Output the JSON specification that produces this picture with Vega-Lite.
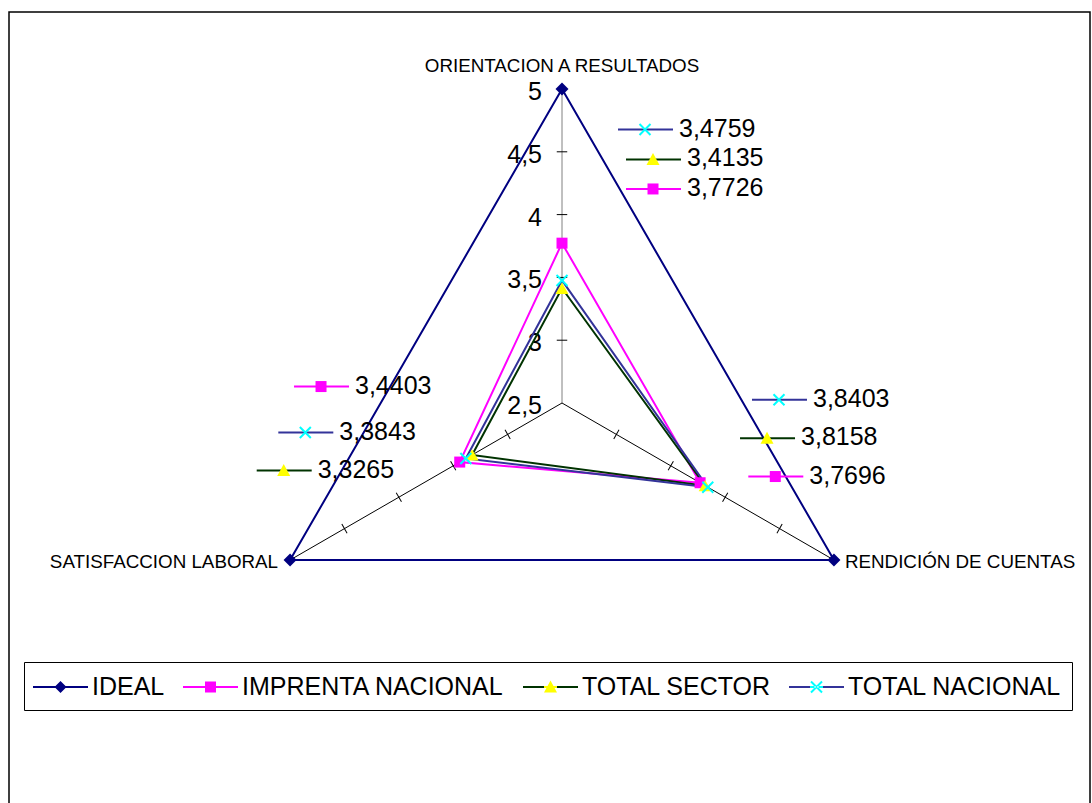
{
  "$schema": "https://vega.github.io/schema/vega-lite/v6.json",
  "width": 1081,
  "height": 792,
  "padding": {"left": 9, "top": 12, "right": 2, "bottom": 0},
  "autosize": "none",
  "background": "white",
  "config": {
    "view": {"stroke": "black", "strokeWidth": 1.5},
    "font": "Liberation Sans",
    "locale": {"number": {"decimal": ",", "thousands": ".", "grouping": [3], "currency": ["", ""]}}
  },
  "datasets": {
    "radar": [
      {"series": "IDEAL", "axis": "ORIENTACION A RESULTADOS", "value": 5},
      {"series": "IDEAL", "axis": "RENDICIÓN DE CUENTAS", "value": 5},
      {"series": "IDEAL", "axis": "SATISFACCION LABORAL", "value": 5},
      {"series": "IMPRENTA NACIONAL", "axis": "ORIENTACION A RESULTADOS", "value": 3.7726},
      {"series": "IMPRENTA NACIONAL", "axis": "RENDICIÓN DE CUENTAS", "value": 3.7696},
      {"series": "IMPRENTA NACIONAL", "axis": "SATISFACCION LABORAL", "value": 3.4403},
      {"series": "TOTAL SECTOR", "axis": "ORIENTACION A RESULTADOS", "value": 3.4135},
      {"series": "TOTAL SECTOR", "axis": "RENDICIÓN DE CUENTAS", "value": 3.8158},
      {"series": "TOTAL SECTOR", "axis": "SATISFACCION LABORAL", "value": 3.3265},
      {"series": "TOTAL NACIONAL", "axis": "ORIENTACION A RESULTADOS", "value": 3.4759},
      {"series": "TOTAL NACIONAL", "axis": "RENDICIÓN DE CUENTAS", "value": 3.8403},
      {"series": "TOTAL NACIONAL", "axis": "SATISFACCION LABORAL", "value": 3.3843}
    ],
    "ticks": [
      {"axis": "ORIENTACION A RESULTADOS", "value": 3},
      {"axis": "ORIENTACION A RESULTADOS", "value": 3.5},
      {"axis": "ORIENTACION A RESULTADOS", "value": 4},
      {"axis": "ORIENTACION A RESULTADOS", "value": 4.5},
      {"axis": "RENDICIÓN DE CUENTAS", "value": 3},
      {"axis": "RENDICIÓN DE CUENTAS", "value": 3.5},
      {"axis": "RENDICIÓN DE CUENTAS", "value": 4},
      {"axis": "RENDICIÓN DE CUENTAS", "value": 4.5},
      {"axis": "SATISFACCION LABORAL", "value": 3},
      {"axis": "SATISFACCION LABORAL", "value": 3.5},
      {"axis": "SATISFACCION LABORAL", "value": 4},
      {"axis": "SATISFACCION LABORAL", "value": 4.5}
    ],
    "scalelabels": [
      {"axis": "ORIENTACION A RESULTADOS", "value": 2.5},
      {"axis": "ORIENTACION A RESULTADOS", "value": 3},
      {"axis": "ORIENTACION A RESULTADOS", "value": 3.5},
      {"axis": "ORIENTACION A RESULTADOS", "value": 4},
      {"axis": "ORIENTACION A RESULTADOS", "value": 4.5},
      {"axis": "ORIENTACION A RESULTADOS", "value": 5}
    ]
  },
  "layer": [
    {
      "data": {"name": "radar"},
      "transform": [
        {"calculate": "indexof(['ORIENTACION A RESULTADOS','RENDICIÓN DE CUENTAS','SATISFACCION LABORAL'], datum.axis)", "as": "k"},
        {"calculate": "(datum.value - 2.5) * sin(datum.k * 2 * PI / 3)", "as": "px"},
        {"calculate": "(datum.value - 2.5) * cos(datum.k * 2 * PI / 3)", "as": "py"}
      ],
      "encoding": {
        "x": {"field": "px", "type": "quantitative", "scale": {"domain": [-4.4029, 4.2038], "nice": false, "zero": false}, "axis": null},
        "y": {"field": "py", "type": "quantitative", "scale": {"domain": [-3.1926, 3.1131], "nice": false, "zero": false}, "axis": null}
      },
      "layer": [
        {
          "transform": [{"filter": "datum.series === 'IDEAL'"}],
          "mark": {"type": "rule", "strokeWidth": 1},
          "encoding": {
            "x": {"datum": 0, "type": "quantitative"},
            "y": {"datum": 0, "type": "quantitative"},
            "x2": {"field": "px"},
            "y2": {"field": "py"},
            "color": {"condition": {"test": "datum.k === 0", "value": "#808080"}, "value": "black"}
          }
        }
      ]
    },
    {
      "data": {"name": "ticks"},
      "transform": [
        {"calculate": "indexof(['ORIENTACION A RESULTADOS','RENDICIÓN DE CUENTAS','SATISFACCION LABORAL'], datum.axis)", "as": "k"},
        {"calculate": "(datum.value - 2.5) * sin(datum.k * 2 * PI / 3)", "as": "px"},
        {"calculate": "(datum.value - 2.5) * cos(datum.k * 2 * PI / 3)", "as": "py"}
      ],
      "encoding": {
        "x": {"field": "px", "type": "quantitative", "scale": {"domain": [-4.4029, 4.2038], "nice": false, "zero": false}, "axis": null},
        "y": {"field": "py", "type": "quantitative", "scale": {"domain": [-3.1926, 3.1131], "nice": false, "zero": false}, "axis": null}
      },
      "layer": [
        {"transform": [{"filter": "datum.k === 0"}], "mark": {"type": "point", "shape": "stroke", "size": 110, "angle": 0, "filled": false, "stroke": "black", "strokeWidth": 1, "opacity": 1}},
        {"transform": [{"filter": "datum.k === 1"}], "mark": {"type": "point", "shape": "stroke", "size": 110, "angle": 120, "filled": false, "stroke": "black", "strokeWidth": 1, "opacity": 1}},
        {"transform": [{"filter": "datum.k === 2"}], "mark": {"type": "point", "shape": "stroke", "size": 110, "angle": 60, "filled": false, "stroke": "black", "strokeWidth": 1, "opacity": 1}}
      ]
    },
    {
      "data": {"name": "scalelabels"},
      "transform": [
        {"calculate": "0", "as": "px"},
        {"calculate": "datum.value - 2.5", "as": "py"}
      ],
      "mark": {"type": "text", "align": "right", "baseline": "middle", "dx": -20, "dy": 3, "fontSize": 25, "font": "Liberation Sans", "color": "black"},
      "encoding": {
        "x": {"field": "px", "type": "quantitative", "scale": {"domain": [-4.4029, 4.2038], "nice": false, "zero": false}, "axis": null},
        "y": {"field": "py", "type": "quantitative", "scale": {"domain": [-3.1926, 3.1131], "nice": false, "zero": false}, "axis": null},
        "text": {"field": "value", "type": "quantitative", "format": ".1~f"}
      }
    },
    {
      "data": {"name": "radar"},
      "transform": [
        {"calculate": "indexof(['ORIENTACION A RESULTADOS','RENDICIÓN DE CUENTAS','SATISFACCION LABORAL'], datum.axis)", "as": "k"},
        {"calculate": "(datum.value - 2.5) * sin(datum.k * 2 * PI / 3)", "as": "px"},
        {"calculate": "(datum.value - 2.5) * cos(datum.k * 2 * PI / 3)", "as": "py"}
      ],
      "encoding": {
        "x": {"field": "px", "type": "quantitative", "scale": {"domain": [-4.4029, 4.2038], "nice": false, "zero": false}, "axis": null},
        "y": {"field": "py", "type": "quantitative", "scale": {"domain": [-3.1926, 3.1131], "nice": false, "zero": false}, "axis": null}
      },
      "layer": [
        {
          "mark": {"type": "line", "interpolate": "linear-closed", "strokeWidth": 2},
          "encoding": {
            "x": {"field": "px", "type": "quantitative"},
            "y": {"field": "py", "type": "quantitative"},
            "order": {"field": "k", "type": "quantitative"},
            "stroke": {
              "field": "series", "type": "nominal",
              "scale": {"domain": ["IDEAL", "IMPRENTA NACIONAL", "TOTAL SECTOR", "TOTAL NACIONAL"], "range": ["#000080", "#FF00FF", "#003300", "#333399"]},
              "legend": {
                "orient": "none", "legendX": 15, "legendY": 650, "direction": "horizontal", "title": null,
                "strokeColor": "black", "padding": 10, "symbolSize": 900, "symbolStrokeWidth": 2,
                "labelOffset": 28, "labelFontSize": 25, "labelFont": "Liberation Sans",
                "labelColor": "black", "labelLimit": 600, "columnPadding": 17,
                "encode": {"symbols": {"update": {
                  "shape": {"signal": "datum.value === 'IDEAL' ? 'M-1.0667,-0.0667H2.6V0.0667H-1.0667ZM0.367,0L0.767,-0.4L1.167,0L0.767,0.4Z' : datum.value === 'IMPRENTA NACIONAL' ? 'M-1.0667,-0.0667H2.6V0.0667H-1.0667ZM0.4,-0.367H1.133V0.367H0.4Z' : datum.value === 'TOTAL SECTOR' ? 'M-1.0667,-0.0667H2.6V0.0667H-1.0667ZM0.767,-0.43L1.2,0.37L0.333,0.37Z' : 'M-1.0667,-0.0667H2.6V0.0667H-1.0667ZM0.3529,-0.3199L1.0869,0.4141L1.1811,0.3199L0.4471,-0.4141ZM0.4471,0.4141L1.1811,-0.3199L1.0869,-0.4141L0.3529,0.3199Z'"},
                  "fill": {"signal": "datum.value === 'IDEAL' ? '#000080' : datum.value === 'IMPRENTA NACIONAL' ? '#FF00FF' : datum.value === 'TOTAL SECTOR' ? {gradient: 'linear', x1: 0, y1: 0, x2: 1, y2: 0, stops: [{offset: 0, color: '#003300'}, {offset: 0.381, color: '#003300'}, {offset: 0.381, color: '#FFFF00'}, {offset: 0.619, color: '#FFFF00'}, {offset: 0.619, color: '#003300'}, {offset: 1, color: '#003300'}]} : {gradient: 'linear', x1: 0, y1: 0, x2: 1, y2: 0, stops: [{offset: 0, color: '#333399'}, {offset: 0.387, color: '#333399'}, {offset: 0.387, color: '#00FFFF'}, {offset: 0.613, color: '#00FFFF'}, {offset: 0.613, color: '#333399'}, {offset: 1, color: '#333399'}]}"},
                  "stroke": {"value": "transparent"},
                  "strokeWidth": {"value": 0},
                  "opacity": {"value": 1}
                }}}
              }
            }
          }
        },
        {"transform": [{"filter": "datum.series === 'IDEAL'"}], "mark": {"type": "point", "shape": "diamond", "size": 169, "filled": true, "color": "#000080", "opacity": 1}},
        {"transform": [{"filter": "datum.series === 'IMPRENTA NACIONAL'"}], "mark": {"type": "point", "shape": "square", "size": 121, "filled": true, "color": "#FF00FF", "opacity": 1}},
        {"transform": [{"filter": "datum.series === 'TOTAL SECTOR'"}], "mark": {"type": "point", "shape": "triangle-up", "size": 169, "filled": true, "color": "#FFFF00", "opacity": 1}},
        {"transform": [{"filter": "datum.series === 'TOTAL NACIONAL'"}], "mark": {"type": "point", "shape": "M-1,-1L1,1M-1,1L1,-1", "size": 121, "filled": false, "stroke": "#00FFFF", "strokeWidth": 2, "opacity": 1}},

        {"transform": [{"filter": "datum.series === 'IDEAL' && datum.k === 0"}], "mark": {"type": "text", "align": "center", "baseline": "middle", "dy": -23.5, "fontSize": 18.8, "font": "Liberation Sans", "color": "black"}, "encoding": {"text": {"field": "axis"}}},
        {"transform": [{"filter": "datum.series === 'IDEAL' && datum.k === 1"}], "mark": {"type": "text", "align": "left", "baseline": "middle", "dx": 11, "dy": 2, "fontSize": 18.8, "font": "Liberation Sans", "color": "black"}, "encoding": {"text": {"field": "axis"}}},
        {"transform": [{"filter": "datum.series === 'IDEAL' && datum.k === 2"}], "mark": {"type": "text", "align": "right", "baseline": "middle", "dx": -12, "dy": 2.3, "fontSize": 18.8, "font": "Liberation Sans", "color": "black"}, "encoding": {"text": {"field": "axis"}}},

        {
          "transform": [{"filter": "datum.series === 'TOTAL NACIONAL' && datum.k === 0"}],
          "layer": [
            {"mark": {"type": "text", "align": "left", "baseline": "middle", "dx": 117, "dy": -151.9, "fontSize": 25, "font": "Liberation Sans", "color": "black"}, "encoding": {"text": {"field": "value", "type": "quantitative", "format": ".4f"}}},
            {"mark": {"type": "point", "shape": "M56,-150.9H111", "size": 4, "filled": false, "stroke": "#333399", "strokeWidth": 2, "opacity": 1}},
            {"mark": {"type": "point", "shape": "M77.5,-156.4L88.5,-145.4M77.5,-145.4L88.5,-156.4", "size": 4, "filled": false, "stroke": "#00FFFF", "strokeWidth": 2, "opacity": 1}}
          ]
        },
        {
          "transform": [{"filter": "datum.series === 'TOTAL SECTOR' && datum.k === 0"}],
          "layer": [
            {"mark": {"type": "text", "align": "left", "baseline": "middle", "dx": 125, "dy": -129.8, "fontSize": 25, "font": "Liberation Sans", "color": "black"}, "encoding": {"text": {"field": "value", "type": "quantitative", "format": ".4f"}}},
            {"mark": {"type": "point", "shape": "M64,-128.8H119", "size": 4, "filled": false, "stroke": "#003300", "strokeWidth": 2, "opacity": 1}},
            {"mark": {"type": "point", "shape": "M91,-135.3L97.5,-123.3L84.5,-123.3Z", "size": 4, "filled": true, "fill": "#FFFF00", "strokeWidth": 0, "opacity": 1}}
          ]
        },
        {
          "transform": [{"filter": "datum.series === 'IMPRENTA NACIONAL' && datum.k === 0"}],
          "layer": [
            {"mark": {"type": "text", "align": "left", "baseline": "middle", "dx": 125, "dy": -55.2, "fontSize": 25, "font": "Liberation Sans", "color": "black"}, "encoding": {"text": {"field": "value", "type": "quantitative", "format": ".4f"}}},
            {"mark": {"type": "point", "shape": "M64,-54.2H119", "size": 4, "filled": false, "stroke": "#FF00FF", "strokeWidth": 2, "opacity": 1}},
            {"mark": {"type": "point", "shape": "M85.5,-59.7h11v11h-11Z", "size": 4, "filled": true, "fill": "#FF00FF", "strokeWidth": 0, "opacity": 1}}
          ]
        },
        {
          "transform": [{"filter": "datum.series === 'TOTAL NACIONAL' && datum.k === 1"}],
          "layer": [
            {"mark": {"type": "text", "align": "left", "baseline": "middle", "dx": 105.2, "dy": -88.4, "fontSize": 25, "font": "Liberation Sans", "color": "black"}, "encoding": {"text": {"field": "value", "type": "quantitative", "format": ".4f"}}},
            {"mark": {"type": "point", "shape": "M44.2,-87.4H99.2", "size": 4, "filled": false, "stroke": "#333399", "strokeWidth": 2, "opacity": 1}},
            {"mark": {"type": "point", "shape": "M65.7,-92.9L76.7,-81.9M65.7,-81.9L76.7,-92.9", "size": 4, "filled": false, "stroke": "#00FFFF", "strokeWidth": 2, "opacity": 1}}
          ]
        },
        {
          "transform": [{"filter": "datum.series === 'TOTAL SECTOR' && datum.k === 1"}],
          "layer": [
            {"mark": {"type": "text", "align": "left", "baseline": "middle", "dx": 95.9, "dy": -48.3, "fontSize": 25, "font": "Liberation Sans", "color": "black"}, "encoding": {"text": {"field": "value", "type": "quantitative", "format": ".4f"}}},
            {"mark": {"type": "point", "shape": "M34.9,-47.3H89.9", "size": 4, "filled": false, "stroke": "#003300", "strokeWidth": 2, "opacity": 1}},
            {"mark": {"type": "point", "shape": "M61.9,-53.8L68.4,-41.8L55.4,-41.8Z", "size": 4, "filled": true, "fill": "#FFFF00", "strokeWidth": 0, "opacity": 1}}
          ]
        },
        {
          "transform": [{"filter": "datum.series === 'IMPRENTA NACIONAL' && datum.k === 1"}],
          "layer": [
            {"mark": {"type": "text", "align": "left", "baseline": "middle", "dx": 109.2, "dy": -7.2, "fontSize": 25, "font": "Liberation Sans", "color": "black"}, "encoding": {"text": {"field": "value", "type": "quantitative", "format": ".4f"}}},
            {"mark": {"type": "point", "shape": "M48.2,-6.2H103.2", "size": 4, "filled": false, "stroke": "#FF00FF", "strokeWidth": 2, "opacity": 1}},
            {"mark": {"type": "point", "shape": "M69.7,-11.7h11v11h-11Z", "size": 4, "filled": true, "fill": "#FF00FF", "strokeWidth": 0, "opacity": 1}}
          ]
        },
        {
          "transform": [{"filter": "datum.series === 'IMPRENTA NACIONAL' && datum.k === 2"}],
          "layer": [
            {"mark": {"type": "text", "align": "left", "baseline": "middle", "dx": -104.7, "dy": -76.5, "fontSize": 25, "font": "Liberation Sans", "color": "black"}, "encoding": {"text": {"field": "value", "type": "quantitative", "format": ".4f"}}},
            {"mark": {"type": "point", "shape": "M-165.7,-75.5H-110.7", "size": 4, "filled": false, "stroke": "#FF00FF", "strokeWidth": 2, "opacity": 1}},
            {"mark": {"type": "point", "shape": "M-144.2,-81h11v11h-11Z", "size": 4, "filled": true, "fill": "#FF00FF", "strokeWidth": 0, "opacity": 1}}
          ]
        },
        {
          "transform": [{"filter": "datum.series === 'TOTAL NACIONAL' && datum.k === 2"}],
          "layer": [
            {"mark": {"type": "text", "align": "left", "baseline": "middle", "dx": -126.5, "dy": -27, "fontSize": 25, "font": "Liberation Sans", "color": "black"}, "encoding": {"text": {"field": "value", "type": "quantitative", "format": ".4f"}}},
            {"mark": {"type": "point", "shape": "M-187.5,-26H-132.5", "size": 4, "filled": false, "stroke": "#333399", "strokeWidth": 2, "opacity": 1}},
            {"mark": {"type": "point", "shape": "M-166,-31.5L-155,-20.5M-166,-20.5L-155,-31.5", "size": 4, "filled": false, "stroke": "#00FFFF", "strokeWidth": 2, "opacity": 1}}
          ]
        },
        {
          "transform": [{"filter": "datum.series === 'TOTAL SECTOR' && datum.k === 2"}],
          "layer": [
            {"mark": {"type": "text", "align": "left", "baseline": "middle", "dx": -154.4, "dy": 14.6, "fontSize": 25, "font": "Liberation Sans", "color": "black"}, "encoding": {"text": {"field": "value", "type": "quantitative", "format": ".4f"}}},
            {"mark": {"type": "point", "shape": "M-215.4,15.6H-160.4", "size": 4, "filled": false, "stroke": "#003300", "strokeWidth": 2, "opacity": 1}},
            {"mark": {"type": "point", "shape": "M-188.4,9.1L-181.9,21.1L-194.9,21.1Z", "size": 4, "filled": true, "fill": "#FFFF00", "strokeWidth": 0, "opacity": 1}}
          ]
        }
      ]
    }
  ]
}
